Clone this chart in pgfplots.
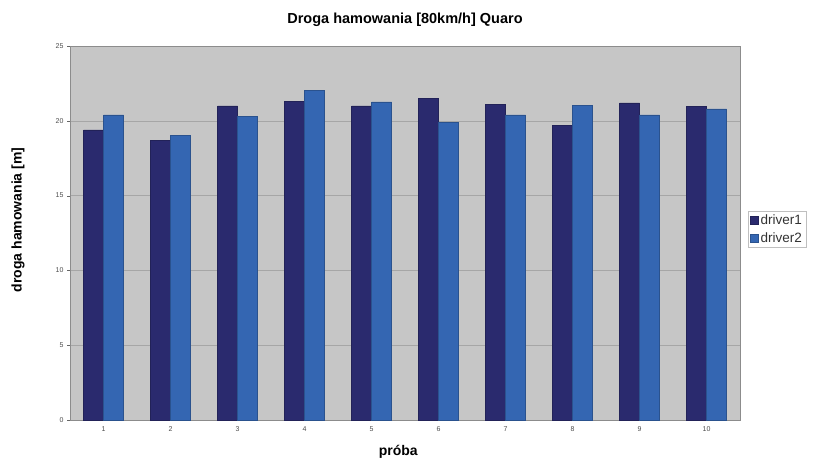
\documentclass[border=0pt]{standalone}
\usepackage{fontspec}
\setmainfont{Liberation Sans}
\usepackage{pgfplots}
\pgfplotsset{compat=1.18}
\definecolor{dOne}{HTML}{2A2A6E}
\definecolor{dTwo}{HTML}{3466B2}
\definecolor{bg}{HTML}{C6C6C6}
\begin{document}
\begin{tikzpicture}[x=1pt,y=1pt]
\useasboundingbox (-70,-39) rectangle (748,420);
\begin{axis}[
  at={(0,0)}, anchor=south west,
  scale only axis, width=670pt, height=374pt,
  ybar=0pt, bar width=20pt,
  xmin=0.5, xmax=10.5, ymin=0, ymax=25,
  xtick={1,...,10}, ytick={0,5,...,25},
  ytick pos=left,
  xtick style={draw=none},
  ytick style={black!60},
  tick align=outside, major tick length=3pt,
  /pgf/number format/assume math mode=true,
  ticklabel style={font=\fontsize{7}{8}\selectfont, text=black!70},
  ymajorgrids, grid style={black!35, line width=0.6pt},
  axis background/.style={fill=bg},
  axis line style={black!45},
  title={\bfseries Droga hamowania [80km/h] Quaro},
  title style={at={(axis description cs:0.5,1)}, anchor=center, yshift=20pt, font=\fontsize{14.5}{16}\selectfont},
  xlabel={\bfseries próba},
  xlabel style={at={(axis description cs:0.49,0)}, anchor=center, yshift=-32pt, font=\fontsize{14}{16}\selectfont},
  ylabel={\bfseries droga hamowania [m]},
  ylabel style={at={(axis description cs:-0.0776,0.535)}, anchor=center, font=\fontsize{14}{16}\selectfont},
  legend style={at={(axis description cs:1.012,0.51)}, anchor=west, draw=black!25,
    font=\fontsize{13.5}{15}\selectfont, inner sep=2pt, row sep=2pt, text=black!80},
  legend cell align=left,
  legend image code/.code={\fill[#1] (0pt,-4pt) rectangle (8pt,4pt);},
]
\addplot[fill=dOne, draw=dOne!80!black] coordinates {
 (1,19.4) (2,18.7) (3,21.0) (4,21.3) (5,21.0) (6,21.5) (7,21.1) (8,19.7) (9,21.2) (10,20.95)};
\addplot[fill=dTwo, draw=dTwo!80!black] coordinates {
 (1,20.4) (2,19.05) (3,20.3) (4,22.05) (5,21.27) (6,19.9) (7,20.4) (8,21.05) (9,20.4) (10,20.8)};
\legend{driver1, driver2}
\end{axis}
\end{tikzpicture}
\end{document}
